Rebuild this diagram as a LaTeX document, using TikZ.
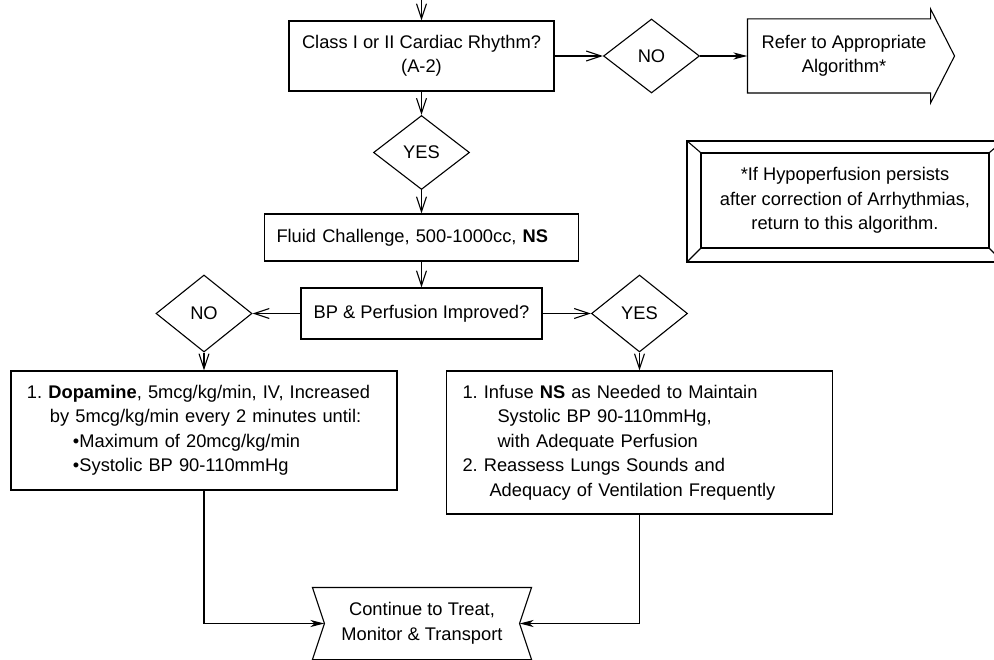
\documentclass[tikz,border=0pt]{standalone}
\usepackage{fontspec}
\setmainfont{Liberation Sans}
\usetikzlibrary{arrows.meta,shapes.geometric}
\frenchspacing
\begin{document}
\begin{tikzpicture}[x=1pt,y=-1pt, line width=1.1pt,
  every node/.style={font=\fontsize{18.3}{24.5}\selectfont\frenchspacing, inner sep=0pt},
  box/.style={draw, rectangle, inner sep=0pt, align=center},
  dia/.style={draw, diamond, minimum width=96pt, minimum height=74pt, inner sep=0pt},
  oarr/.style={-{Straight Barb[length=15pt,width=10pt]}},
  farr/.style={-{Stealth[length=14pt,width=7pt,inset=4pt]}}]
\useasboundingbox (0,0) rectangle (994,660);

% top row
\coordinate (top) at (421.5,0);
\node[box, minimum width=265pt, minimum height=70pt] (class) at (421.5,56) {Class I or II Cardiac Rhythm?\\(A-2)};
\node[dia] (no1) at (651.5,56) {NO};
\node[minimum width=182pt, minimum height=73pt] (refer) at (839,56) {};
\draw (refer.north west) -- (refer.north east) -- ([yshift=10pt]refer.north east)
  -- ([xshift=24pt]refer.east) -- ([yshift=-10pt]refer.south east)
  -- (refer.south east) -- (refer.south west) -- cycle;
\node[align=center] (refertxt) at ([xshift=5pt]refer.center) {Refer to Appropriate\\Algorithm*};

% note box
\node[draw, minimum width=316pt, minimum height=121pt] (noteframe) at (845,201.5) {};
\node[box, minimum width=288pt, minimum height=95pt] (note) at (845,200.5) {*If Hypoperfusion persists\\after correction of Arrhythmias,\\return to this algorithm.};
\draw (noteframe.north west) -- (note.north west);
\draw (noteframe.north east) -- (note.north east);
\draw (noteframe.south west) -- (note.south west);
\draw (noteframe.south east) -- (note.south east);

% middle
\node[dia] (yes1) at (421.5,152.5) {YES};
\node[box, text width=290pt, inner xsep=12pt, minimum height=47pt, align=left] (fluid) at (421.5,237.5) {Fluid Challenge, 500-1000cc, \textbf{NS}};
\node[box, minimum width=241pt, minimum height=51pt] (bp) at (421.5,313.5) {BP \& Perfusion Improved?};
\node[dia, minimum height=77pt] (no2) at (204,313.5) {NO};
\node[dia, minimum height=77pt] (yes2) at (639.5,313.5) {YES};

% action boxes
\node[box, text width=354pt, inner xsep=16pt, minimum height=119pt, align=left] (dop) at (204,430.5)
 {1. \textbf{Dopamine}, 5mcg/kg/min, IV, Increased\\
  \hspace*{23pt}by 5mcg/kg/min every 2 minutes until:\\
  \hspace*{46pt}•Maximum of 20mcg/kg/min\\
  \hspace*{46pt}•Systolic BP 90-110mmHg};
\node[box, text width=354pt, inner xsep=16pt, minimum height=143pt, align=left] (ns) at (639.5,442.5)
 {1. Infuse \textbf{NS} as Needed to Maintain\\
  \hspace*{35pt}Systolic BP 90-110mmHg,\\
  \hspace*{35pt}with Adequate Perfusion\\
  2. Reassess Lungs Sounds and\\
  \hspace*{27pt}Adequacy of Ventilation Frequently};

% continue
\node[minimum width=218pt, minimum height=71pt, align=center] (cont) at (422,623.5) {Continue to Treat,\\Monitor \& Transport};
\draw (cont.north west) -- (cont.north east) -- ([xshift=-12pt]cont.east)
  -- (cont.south east) -- (cont.south west) -- ([xshift=12pt]cont.west) -- cycle;
\coordinate (contL) at ([xshift=12pt]cont.west);
\coordinate (contR) at ([xshift=-12pt]cont.east);

% connectors
\draw[oarr] (top) -- (class);
\draw[oarr] (class) -- (no1);
\draw[farr] (no1) -- (refer);
\draw[oarr] (class) -- (yes1);
\draw[oarr] (yes1) -- (fluid);
\draw[oarr] (fluid) -- (bp);
\draw[oarr] (bp) -- (no2);
\draw[oarr] (bp) -- (yes2);
\draw[oarr] (no2) -- (dop);
\draw[oarr] (yes2) -- (ns);
\draw[farr] (dop.south) |- (contL);
\draw[farr] (ns.south) |- (contR);
\end{tikzpicture}
\end{document}
